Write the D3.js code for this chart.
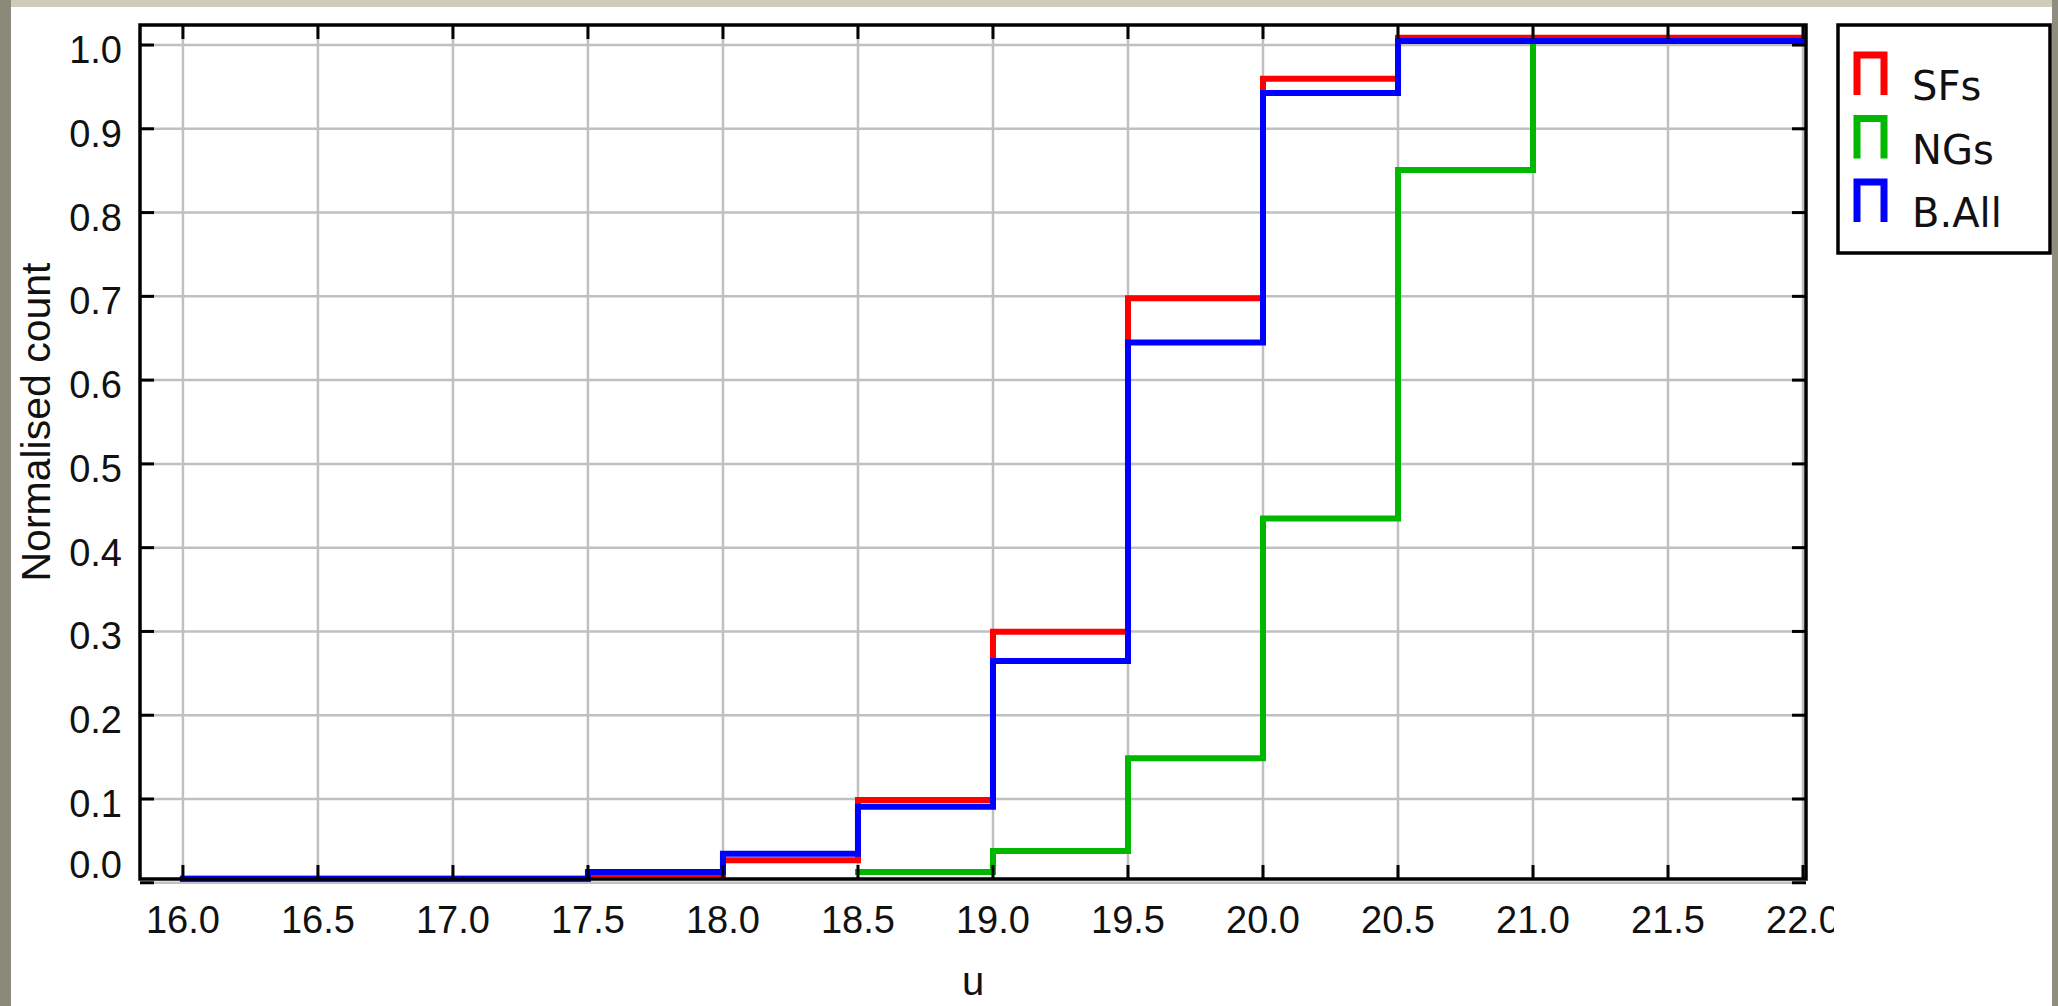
<!DOCTYPE html>
<html>
<head>
<meta charset="utf-8">
<script src="https://cdn.jsdelivr.net/npm/d3@7"></script>
<style>
  body { margin: 0; background: #a9a695; }
  svg { display: block; }
</style>
</head>
<body>
<div id="chart"></div>
<script>
// Cumulative step histograms (bin left edges + normalised cumulative count)
var xEnd = 22.0;

var sfEdges  = [16.0, 17.5, 18.0, 18.5, 19.0, 19.5, 20.0, 20.5];
var sfValues = [0.0, 0.003, 0.022, 0.094, 0.295, 0.693, 0.955, 1.004];

var ngEdges  = [18.5, 19.0, 19.5, 20.0, 20.5, 21.0];
var ngValues = [0.008, 0.033, 0.144, 0.43, 0.846, 1.0];

var allEdges  = [16.0, 17.5, 18.0, 18.5, 19.0, 19.5, 20.0, 20.5];
var allValues = [0.0, 0.008, 0.030, 0.086, 0.26, 0.64, 0.938, 1.0];

var seriesNames  = ["SFs", "NGs", "B.All"];
var seriesColors = ["#ff0000", "#00b800", "#0000ff"];

var xTicks = [16.0, 16.5, 17.0, 17.5, 18.0, 18.5, 19.0, 19.5, 20.0, 20.5, 21.0, 21.5, 22.0];
var yTicks = [0.0, 0.1, 0.2, 0.3, 0.4, 0.5, 0.6, 0.7, 0.8, 0.9, 1.0];

var xTitle = "u";
var yTitle = "Normalised count";

// Layout
var W = 2058, H = 1006;
var plot = {left: 140, right: 1806, top: 25, bottom: 879};

var svg = d3.select("#chart")
    .append("svg")
    .attr("width", W)
    .attr("height", H);

// Outer frame of the screenshot
svg.append("rect").attr("x", 0).attr("y", 0).attr("width", W).attr("height", 7).attr("fill", "#cfcbb9");
svg.append("rect").attr("x", 0).attr("y", 0).attr("width", 11).attr("height", H).attr("fill", "#8b8979");
svg.append("rect").attr("x", W - 6).attr("y", 0).attr("width", 6).attr("height", H).attr("fill", "#8f8d80");
svg.append("rect").attr("x", 11).attr("y", 7).attr("width", W - 17).attr("height", H - 7).attr("fill", "#ffffff");

var x = d3.scaleLinear().domain([15.841, 22.011]).range([plot.left, plot.right]);
var y = d3.scaleLinear().domain([0.0045, 1.0239]).range([plot.bottom, plot.top]);

// Grid
var grid = svg.append("g").attr("class", "grid");
grid.selectAll(".vgrid")
    .data(xTicks)
    .enter()
    .append("line")
    .attr("class", "vgrid")
    .attr("x1", function(d) { return x(d); })
    .attr("x2", function(d) { return x(d); })
    .attr("y1", plot.top)
    .attr("y2", plot.bottom)
    .attr("stroke", "#c0c0c0")
    .attr("stroke-width", 2.5);
grid.selectAll(".hgrid")
    .data(yTicks)
    .enter()
    .append("line")
    .attr("class", "hgrid")
    .attr("x1", plot.left)
    .attr("x2", plot.right)
    .attr("y1", function(d) { return y(d); })
    .attr("y2", function(d) { return y(d); })
    .attr("stroke", "#c0c0c0")
    .attr("stroke-width", 2.5);

// Step lines, drawn slightly above the true value like the original plotter
var stepLine = d3.line()
    .x(function(d) { return x(d[0]); })
    .y(function(d) { return y(d[1]); })
    .curve(d3.curveStepAfter);

var buildSteps = function (edges, values) {
    var pts = edges.map(function(e, i) { return [e, values[i]]; });
    pts.push([xEnd, values[values.length - 1]]);
    return pts;
};

var seriesData = [
    buildSteps(sfEdges, sfValues),
    buildSteps(ngEdges, ngValues),
    buildSteps(allEdges, allValues)
];

svg.append("g")
    .attr("transform", "translate(0,-4)")
    .selectAll(".series")
    .data(seriesData)
    .enter()
    .append("path")
    .attr("class", "series")
    .attr("d", stepLine)
    .attr("fill", "none")
    .attr("stroke", function(d, i) { return seriesColors[i]; })
    .attr("stroke-width", 6)
    .attr("stroke-linejoin", "miter")
    .attr("stroke-linecap", "square");

// Inward ticks on all four sides
var tickLen = 14;
var ticks = svg.append("g").attr("stroke", "#000").attr("stroke-width", 3);
xTicks.forEach(function(t) {
    ticks.append("line").attr("x1", x(t)).attr("x2", x(t)).attr("y1", plot.bottom).attr("y2", plot.bottom - tickLen);
    ticks.append("line").attr("x1", x(t)).attr("x2", x(t)).attr("y1", plot.top).attr("y2", plot.top + tickLen);
});
yTicks.forEach(function(t) {
    ticks.append("line").attr("x1", plot.left).attr("x2", plot.left + tickLen).attr("y1", y(t)).attr("y2", y(t));
    ticks.append("line").attr("x1", plot.right).attr("x2", plot.right - tickLen).attr("y1", y(t)).attr("y2", y(t));
});

// Frame
svg.append("rect")
    .attr("x", plot.left)
    .attr("y", plot.top)
    .attr("width", plot.right - plot.left)
    .attr("height", plot.bottom - plot.top)
    .attr("fill", "none")
    .attr("stroke", "#000")
    .attr("stroke-width", 3.5);

// Tick labels
var labelFont = "'Liberation Sans', Arial, sans-serif";

svg.append("clipPath").attr("id", "xlabClip")
    .append("rect").attr("x", 0).attr("y", 0).attr("width", 1834).attr("height", H);

svg.append("g")
    .attr("clip-path", "url(#xlabClip)")
    .selectAll(".xlab")
    .data(xTicks)
    .enter()
    .append("text")
    .attr("class", "xlab")
    .attr("x", function(d) { return x(d); })
    .attr("y", 933)
    .attr("text-anchor", "middle")
    .attr("font-family", labelFont)
    .attr("font-size", 38)
    .attr("fill", "#111")
    .text(function(d) { return d.toFixed(1); });

svg.selectAll(".ylab")
    .data(yTicks)
    .enter()
    .append("text")
    .attr("class", "ylab")
    .attr("x", 122)
    // keep the lowest label inside the frame
    .attr("y", function(d) { return Math.min(y(d) + 18, plot.bottom - 1); })
    .attr("text-anchor", "end")
    .attr("font-family", labelFont)
    .attr("font-size", 38)
    .attr("fill", "#111")
    .text(function(d) { return d.toFixed(1); });

// Axis titles
svg.append("text")
    .attr("x", (plot.left + plot.right) / 2)
    .attr("y", 995)
    .attr("text-anchor", "middle")
    .attr("font-family", labelFont)
    .attr("font-size", 40)
    .attr("fill", "#111")
    .text(xTitle);

svg.append("text")
    .attr("transform", "translate(50,422) rotate(-90)")
    .attr("text-anchor", "middle")
    .attr("font-family", labelFont)
    .attr("font-size", 41)
    .attr("fill", "#111")
    .text(yTitle);

// Legend
var legend = svg.append("g");
legend.append("rect")
    .attr("x", 1838)
    .attr("y", 25)
    .attr("width", 212)
    .attr("height", 228)
    .attr("fill", "#fff")
    .attr("stroke", "#000")
    .attr("stroke-width", 3.5);

var legendItem = legend.selectAll(".legendItem")
    .data(seriesNames)
    .enter()
    .append("g")
    .attr("class", "legendItem")
    .attr("transform", function(d, i) { return "translate(0," + (i * 63.5) + ")"; });

legendItem.append("path")
    .attr("d", "M1857,95 V55 H1884 V95")
    .attr("fill", "none")
    .attr("stroke", function(d, i) { return seriesColors[i]; })
    .attr("stroke-width", 7);

legendItem.append("text")
    .attr("x", 1912)
    .attr("y", 100)
    .attr("font-family", "'DejaVu Sans', Verdana, sans-serif")
    .attr("font-size", 40)
    .attr("fill", "#111")
    .text(function(d) { return d; });
</script>
</body>
</html>
